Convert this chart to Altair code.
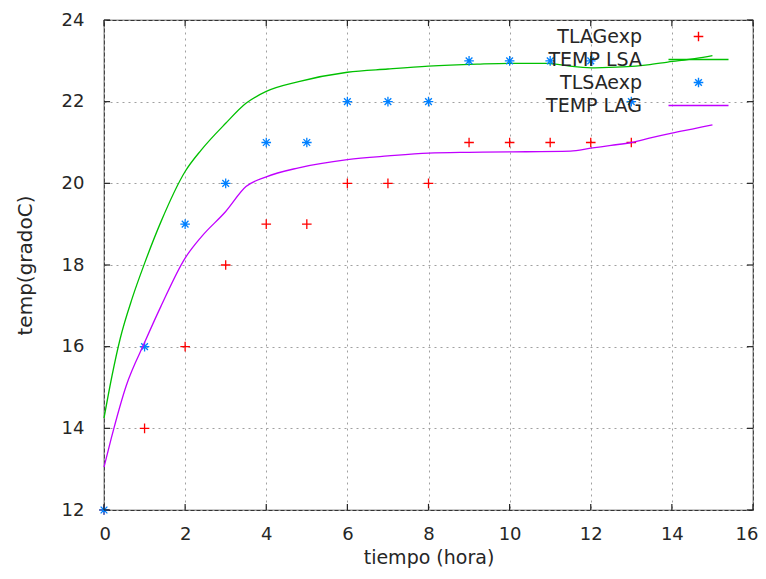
import altair as alt
import pandas as pd

# ---- data ----
series = ["TLAGexp", "TEMP LSA", "TLSAexp", "TEMP LAG"]
colors = ["#ff0000", "#00c000", "#0080ff", "#c000ff"]

t_exp = [0, 1, 2, 3, 4, 5, 6, 7, 8, 9, 10, 11, 12, 13]
tlag_exp = [12, 14, 16, 18, 19, 19, 20, 20, 20, 21, 21, 21, 21, 21]
tlsa_exp = [12, 16, 19, 20, 21, 21, 22, 22, 22, 23, 23, 23, 23, 22]

t_lsa = [0, 0.2, 0.4, 0.7, 1.0, 1.4, 2.0, 2.4, 3.0, 3.5, 4.0, 4.8, 6.0, 7.0,
         8.0, 9.2, 10.0, 10.9, 11.6, 12.1, 12.8, 13.4, 13.9, 14.6, 15.0]
temp_lsa = [14.25, 15.3, 16.2, 17.2, 18.04, 19.05, 20.29, 20.82, 21.47, 21.96,
            22.25, 22.49, 22.72, 22.8, 22.87, 22.92, 22.94, 22.94, 22.86,
            22.83, 22.85, 22.9, 22.97, 23.06, 23.13]

t_lag = [0, 0.18, 0.55, 1.0, 1.4, 2.0, 2.4, 3.0, 3.5, 4.0, 4.8, 6.0, 7.0, 8.0,
         9.0, 10.0, 11.5, 12.0, 12.5, 13.0, 13.5, 14.0, 14.5, 15.0]
temp_lag = [13.05, 13.76, 15.05, 16.1, 16.98, 18.17, 18.69, 19.31, 19.92,
            20.16, 20.38, 20.58, 20.67, 20.74, 20.76, 20.77, 20.79, 20.86,
            20.93, 21.0, 21.12, 21.23, 21.33, 21.43]

x_ticks = [0, 2, 4, 6, 8, 10, 12, 14, 16]
y_ticks = [12, 14, 16, 18, 20, 22, 24]

# ---- tables ----
df_lag_exp = pd.DataFrame({"t": t_exp, "v": tlag_exp, "serie": "TLAGexp"})
df_lsa_exp = pd.DataFrame({"t": t_exp, "v": tlsa_exp, "serie": "TLSAexp"})
df_lsa = pd.DataFrame({"t": t_lsa, "v": temp_lsa, "serie": "TEMP LSA"})
df_lag = pd.DataFrame({"t": t_lag, "v": temp_lag, "serie": "TEMP LAG"})
df_xt = pd.DataFrame({"t": x_ticks})
df_yt = pd.DataFrame({"v": y_ticks})

FONT = "DejaVu Sans"
TXT = "#262626"
plus = "M-0.6,0H0.6M0,-0.6V0.6"
star = "M-0.6,0H0.6M0,-0.6V0.6M-0.42,-0.42L0.42,0.42M-0.42,0.42L0.42,-0.42"
seg = "M-3.75,0H3.75"
shapes = [plus, seg, star, seg]

xs = alt.Scale(domain=[0, 16], nice=False, zero=False)
ys = alt.Scale(domain=[12, 24], nice=False, zero=False)

legend = alt.Legend(
    title=None, orient="none", legendX=585, legendY=7, padding=0,
    labelAlign="right", labelOffset={"expr": "-66"}, labelFont=FONT, labelFontSize=19,
    labelColor=TXT, labelLimit=300, symbolSize=256,
    symbolStrokeWidth=1.4, rowPadding=3,
)
color = alt.Color("serie:N", scale=alt.Scale(domain=series, range=colors), legend=legend)
shape = alt.Shape("serie:N", scale=alt.Scale(domain=series, range=shapes), legend=legend)

xenc = alt.X("t:Q", scale=xs, axis=alt.Axis(
    values=x_ticks, title="tiempo (hora)", grid=True, gridDash=[2, 4],
    gridColor="#a0a0a0", gridWidth=1, ticks=False, domain=False,
    labelFlush=True, labelFlushOffset=5, labelOverlap=False,
    labelPadding=15, labelFont=FONT, labelFontSize=18, labelColor=TXT,
    titleFont=FONT, titleFontSize=19, titleFontWeight="normal",
    titleColor=TXT, titlePadding=5))
yenc = alt.Y("v:Q", scale=ys, axis=alt.Axis(
    values=y_ticks, title="temp(gradoC)", grid=True, gridDash=[2, 4],
    gridColor="#a0a0a0", gridWidth=1, ticks=False, domain=False,
    labelFlush=False, labelOverlap=False,
    labelPadding=20, labelFont=FONT, labelFontSize=18, labelColor=TXT,
    titleFont=FONT, titleFontSize=20, titleFontWeight="normal",
    titleColor=TXT, titlePadding=26))

pts_lag = alt.Chart(df_lag_exp).mark_point(filled=False, size=256, strokeWidth=1.3, opacity=1).encode(
    x=xenc, y=yenc, color=color, shape=shape)
line_lsa = alt.Chart(df_lsa).mark_line(strokeWidth=1.3, interpolate="monotone").encode(
    x="t:Q", y="v:Q", color=color)
pts_lsa = alt.Chart(df_lsa_exp).mark_point(filled=False, size=256, strokeWidth=1.3, opacity=1).encode(
    x="t:Q", y="v:Q", color=color, shape=shape)
line_lag = alt.Chart(df_lag).mark_line(strokeWidth=1.3, interpolate="monotone").encode(
    x="t:Q", y="v:Q", color=color)

TL = 0.15
tick_style = dict(color="#222222", strokeWidth=1.2)
bx = alt.Chart(df_xt).mark_rule(**tick_style).encode(
    x="t:Q", y=alt.datum(12), y2=alt.datum(12 + TL))
tx = alt.Chart(df_xt).mark_rule(**tick_style).encode(
    x="t:Q", y=alt.datum(24), y2=alt.datum(24 - TL))
ly = alt.Chart(df_yt).mark_rule(**tick_style).encode(
    y="v:Q", x=alt.datum(0), x2=alt.datum(TL))
ry = alt.Chart(df_yt).mark_rule(**tick_style).encode(
    y="v:Q", x=alt.datum(16), x2=alt.datum(16 - TL))

chart = alt.layer(pts_lag, line_lsa, pts_lsa, line_lag, bx, tx, ly, ry).properties(
    width=649, height=490,
    autosize=alt.AutoSizeParams(type="none"),
    padding={"left": 96, "top": 12, "right": 5, "bottom": 61},
    background="white",
).configure_view(stroke="#333333", strokeWidth=1.2)

chart.save("out.html", embed_options={"renderer": "svg", "actions": False})
